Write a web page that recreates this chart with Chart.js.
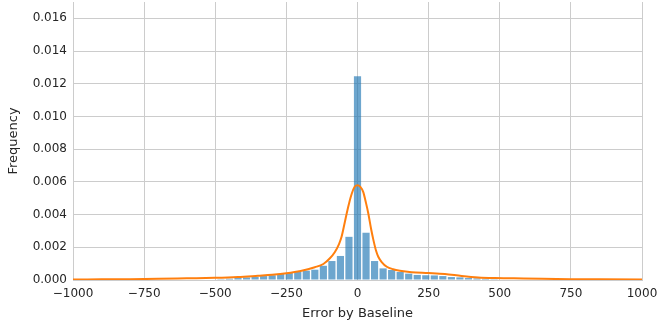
<!DOCTYPE html>
<html>
<head>
<meta charset="utf-8">
<script src="https://cdn.jsdelivr.net/npm/chart.js@4/dist/chart.umd.min.js"></script>
<style>
html,body{margin:0;padding:0;background:#fff;}
canvas{display:block;}
</style>
</head>
<body>
<canvas id="c" width="658" height="322"></canvas>
<script>
// Histogram bins (centre of each 30-unit bin) and densities
const binCenters = [-480,-450,-420,-390,-360,-330,-300,-270,-240,-210,-180,-150,-120,-90,-60,-30,0,30,60,90,120,150,180,210,240,270,300,330,360,390,420,450,480];
const binDensity = [0.00005,0.00008,0.00012,0.00016,0.00020,0.00024,0.00029,0.00037,0.00043,0.00049,0.00057,0.00063,0.00087,0.00116,0.00147,0.00264,0.01246,0.00289,0.00116,0.00071,0.00061,0.00049,0.00039,0.00031,0.00029,0.00028,0.00024,0.00018,0.00016,0.00012,0.00010,0.00008,0.00005];

// KDE curve points
const kdeX = [-1000,-900,-800,-700,-600,-500,-420,-350,-300,-250,-200,-150,-120,-97,-80,-65,-56,-45,-38,-28,-20,-10,0,10,20,30,38,48,56,65,73,85,103,125,149,190,249,307,366,424,483,550,650,750,850,1000];
const kdeY = [0.00003,0.00004,0.00005,0.00007,0.00010,0.00013,0.00018,0.00026,0.00032,0.00041,0.00055,0.00078,0.00098,0.00133,0.00170,0.00220,0.00264,0.00350,0.00407,0.00480,0.00529,0.00570,0.00580,0.00570,0.00539,0.00470,0.00407,0.00310,0.00244,0.00180,0.00142,0.00110,0.00081,0.00066,0.00057,0.00048,0.00043,0.00037,0.00025,0.00016,0.00012,0.00010,0.00007,0.00005,0.00004,0.00003];

const xTicks = [-1000,-750,-500,-250,0,250,500,750,1000];
const yTicks = [0.000,0.002,0.004,0.006,0.008,0.010,0.012,0.014,0.016];

const textColor = '#262626';
const gridColor = '#cccccc';
const font = {family: 'DejaVu Sans', size: 12};

new Chart(document.getElementById('c'), {
  type: 'bar',
  data: {
    datasets: [
      {
        type: 'line',
        order: 0,
        data: kdeX.map((x, i) => ({x: x, y: kdeY[i]})),
        borderColor: '#ff7f0e',
        borderWidth: 2,
        pointRadius: 0,
        fill: false,
        cubicInterpolationMode: 'monotone'
      },
      {
        type: 'bar',
        order: 1,
        data: binCenters.map((x, i) => ({x: x, y: binDensity[i]})),
        backgroundColor: 'rgba(31,119,180,0.65)',
        borderWidth: 0,
        barPercentage: 0.84,
        categoryPercentage: 1.0
      }
    ]
  },
  options: {
    responsive: false,
    animation: false,
    devicePixelRatio: 1,
    layout: {padding: {top: 2, right: 16, left: 0, bottom: 0}},
    plugins: {legend: {display: false}, tooltip: {enabled: false}},
    scales: {
      x: {
        type: 'linear',
        min: -1000, max: 1000,
        offset: false,
        grid: {color: gridColor, lineWidth: 1, drawTicks: false, offset: false},
        border: {display: true, color: gridColor},
        afterBuildTicks: s => { s.ticks = xTicks.map(v => ({value: v})); },
        afterFit: s => { s.height = 42; s.paddingLeft = 0; s.paddingRight = 0; },
        ticks: {
          color: textColor, font: font, padding: 7, maxRotation: 0,
          callback: v => (v < 0 ? '\u2212' + Math.abs(v) : String(v))
        },
        title: {display: true, text: 'Error by Baseline', color: textColor,
                font: {family: 'DejaVu Sans', size: 13}, padding: {top: 0, bottom: 1}}
      },
      y: {
        type: 'linear',
        min: 0, max: 0.017,
        grid: {color: gridColor, lineWidth: 1, drawTicks: false},
        border: {display: true, color: gridColor},
        afterBuildTicks: s => { s.ticks = yTicks.map(v => ({value: v})); },
        afterFit: s => { s.width = 73; s.paddingTop = 0; s.paddingBottom = 0; },
        ticks: {color: textColor, font: font, padding: 6, callback: v => v.toFixed(3)},
        title: {display: true, text: 'Frequency', color: textColor,
                font: {family: 'DejaVu Sans', size: 13}, padding: {top: 6, bottom: 0}}
      }
    }
  }
});
</script>
</body>
</html>
